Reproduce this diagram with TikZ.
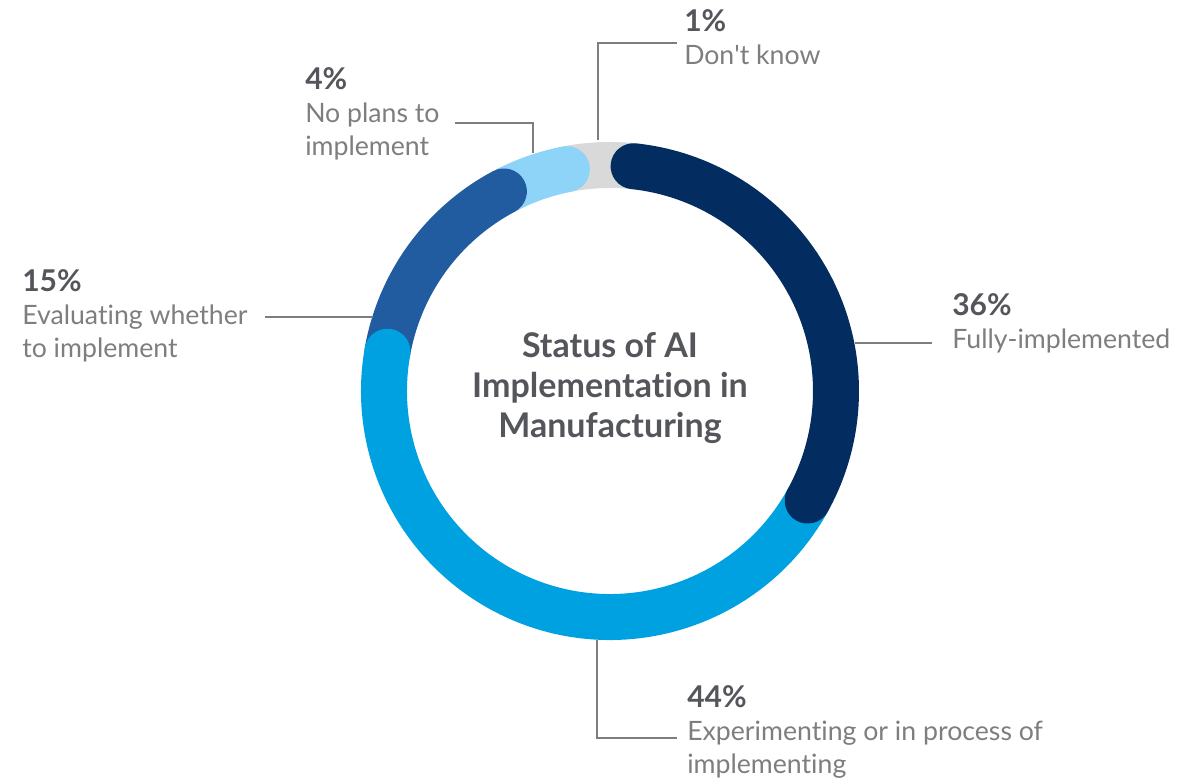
\documentclass[tikz,border=0pt]{standalone}
\usepackage{fontspec}
\setmainfont{Lato}[Ligatures={TeX,NoCommon}]
\usepackage{xcolor}
\usepackage{tikz}

\definecolor{navy}{HTML}{032D60}
\definecolor{skyblue}{HTML}{00A1E0}
\definecolor{midblue}{HTML}{215CA0}
\definecolor{paleblue}{HTML}{8ED3F8}
\definecolor{ringgrey}{HTML}{D9D9D9}
\definecolor{pctgrey}{HTML}{54565B}
\definecolor{txtgrey}{HTML}{7E7E7E}

\tikzset{
    seg/.style={line width=34.5pt, line cap=round},
    leader/.style={draw=txtgrey, line width=0.9pt},
    lbl/.style={anchor=base west, inner sep=0pt, text=txtgrey,
        font=\fontsize{20}{24.5}\selectfont}
}
\newcommand{\pctlbl}[2]{\begin{tabular}[t]{@{}l@{}}\textcolor{pctgrey}{\fontsize{22.5}{24.5}\selectfont\textbf{#1}}\\#2\end{tabular}}

\begin{document}
\begin{tikzpicture}[x=0.75pt, y=0.75pt]
        \useasboundingbox (-610,-389) rectangle (580,391);
        % ring, drawn so each round end lies on the next part
        \foreach \c/\a/\b in {ringgrey/101/84, paleblue/118/101, midblue/170/118,
                skyblue/331/170, navy/84/-29}
            \draw[seg, \c] (\a:169.5pt) arc[start angle=\a, end angle=\b, radius=169.5pt];
        \node[align=center, text=pctgrey, font=\fontsize{25.5}{30}\selectfont\bfseries] (title) at (0,3)
            {Status of AI\\Implementation in\\Manufacturing};

        % labels
        \node[lbl] (dk) at (74,359) {\pctlbl{1\%}{Don\textquotesingle t know}};
        \node[lbl] (np) at (-305,301) {\pctlbl{4\%}{No plans to\\implement}};
        \node[lbl] (ev) at (-588,99) {\pctlbl{15\%}{Evaluating whether\\to implement}};
        \node[lbl] (fi) at (342,75) {\pctlbl{36\%}{Fully-implemented}};
        \node[lbl] (ex) at (77,-317) {\pctlbl{44\%}{Experimenting or in process of\\implementing}};

        % leader lines
        \coordinate (dk1) at (-12,251);
        \coordinate (dk2) at (67,348);
        \coordinate (np1) at (-77,238);
        \coordinate (np2) at (-155,268);
        \coordinate (ev1) at (-237,74);
        \coordinate (ev2) at (-345,74);
        \coordinate (fi1) at (245,48);
        \coordinate (fi2) at (322,48);
        \coordinate (ex1) at (-13,-249);
        \coordinate (ex2) at (67,-347);
        \draw[leader] (dk1) |- (dk2);
        \draw[leader] (np1) |- (np2);
        \draw[leader] (ev1) -- (ev2);
        \draw[leader] (fi1) -- (fi2);
        \draw[leader] (ex1) |- (ex2);
    \end{tikzpicture}
\end{document}
